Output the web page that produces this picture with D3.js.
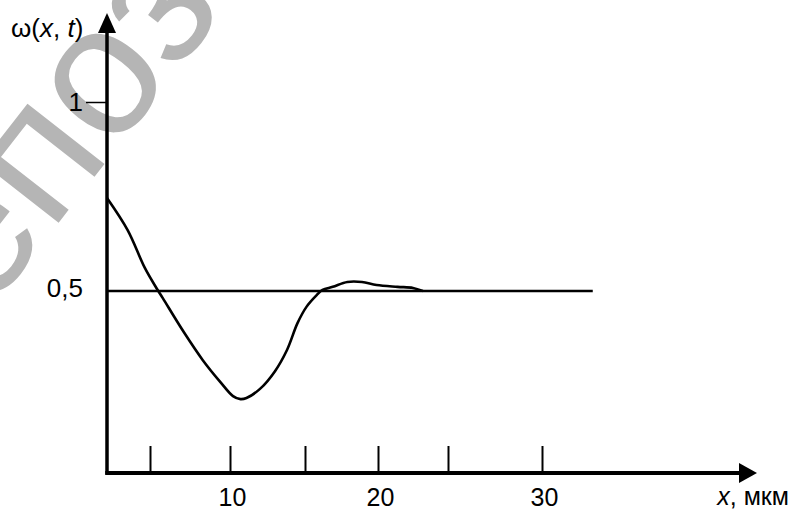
<!doctype html>
<html>
<head>
<meta charset="utf-8">
<title>ω(x, t)</title>
<style>
	body { margin: 0; background: #fff; }
	svg { display: block; font-family: "Liberation Sans", Arial, sans-serif; }
</style>
<script src="https://d3js.org/d3.v7.min.js"></script>
</head>
<body>
<div id="plot"></div>
<script>
	// curve: x in мкм, w = ω(x, t)
	const xs = [0, 2.4, 4.4, 5.4, 5.8, 7.1, 8.3, 9.4, 10.2, 10.7, 11.1, 12.0, 13.0, 13.8,
	            14.5, 15.1, 15.8, 16.2, 16.9, 17.9, 18.9, 19.9, 21.4, 22.5, 23.2];
	const ws = [0.746, 0.661, 0.561, 0.508, 0.481, 0.392, 0.317, 0.259, 0.222, 0.214, 0.217, 0.241, 0.288, 0.344,
	            0.415, 0.458, 0.489, 0.503, 0.511, 0.524, 0.524, 0.516, 0.511, 0.508, 0.5];

	// horizontal level line
	const levelW = 0.5;
	const levelX = [0, 32.7];

	// ticks
	const xTicks = [5, 10, 15, 20, 25, 30];
	const xLabeled = [10, 20, 30];
	const yTicks = [0.5, 1];

	const watermark = "репозиторий БНТУ";

	const width = 792, height = 511;

	// the drawing is hand made: tick spacing is uneven, so the x scale is piecewise
	const x = d3.scaleLinear()
		.domain([0, 5, 10, 15, 20, 25, 30])
		.range([107, 150, 230, 305, 378, 448, 542]);

	const y = d3.scaleLinear()
		.domain([0.5, 1])
		.range([291, 102]);

	const x0 = 107, yBase = 473;

	const fmt = d3.formatLocale({decimal: ",", thousands: " ", grouping: [3], currency: ["", ""]}).format("~g");

	const svg = d3.select("#plot")
		.append("svg")
		.attr("width", width)
		.attr("height", height);

	// watermark behind the chart
	svg.append("text")
		.attr("transform", "translate(-76,395) rotate(-52)")
		.style("font-size", "185px")
		.style("fill", "#b5b5b5")
		.text(watermark);

	// x axis: ticks pointing up, labels only on 10, 20, 30
	svg.append("g")
		.attr("transform", `translate(0,${yBase})`)
		.call(d3.axisBottom(x)
			.tickValues(xTicks)
			.tickSize(-27)
			.tickPadding(15)
			.tickFormat(d => xLabeled.includes(d) ? fmt(d) : ""))
		.call(g => g.select(".domain").remove())
		.call(g => g.selectAll(".tick line").attr("stroke", "#000").attr("stroke-width", 2))
		.call(g => g.selectAll(".tick text")
			.attr("fill", "#000")
			.attr("dx", 2)
			.style("font-size", "25px")
			.style("font-family", "inherit"));

	// y axis: "1" with a short tick, "0,5" without
	svg.append("g")
		.attr("transform", `translate(${x0},0)`)
		.call(d3.axisLeft(y)
			.tickValues(yTicks)
			.tickSize(21)
			.tickPadding(3)
			.tickFormat(fmt))
		.call(g => g.select(".domain").remove())
		.call(g => g.selectAll(".tick line").attr("stroke", "#000").attr("stroke-width", 1.5))
		.call(g => g.selectAll(".tick").filter(d => d === 0.5).select("line").remove())
		.call(g => g.selectAll(".tick").filter(d => d === 0.5).select("text").attr("dy", "0.2em"))
		.call(g => g.selectAll(".tick text")
			.attr("fill", "#000")
			.style("font-size", "26px")
			.style("font-family", "inherit"));

	// level line
	svg.append("line")
		.attr("x1", x(levelX[0]))
		.attr("x2", x(levelX[1]))
		.attr("y1", y(levelW))
		.attr("y2", y(levelW))
		.attr("stroke", "#000")
		.attr("stroke-width", 2.5);

	// curve
	const line = d3.line()
		.x(i => x(xs[i]))
		.y(i => y(ws[i]))
		.curve(d3.curveCatmullRom.alpha(0.5));

	svg.append("path")
		.attr("d", line(d3.range(xs.length)))
		.attr("fill", "none")
		.attr("stroke", "#000")
		.attr("stroke-width", 2.6)
		.attr("stroke-linejoin", "round");

	// axis lines with arrow heads
	svg.append("line")
		.attr("x1", x0).attr("y1", yBase + 1.5)
		.attr("x2", x0).attr("y2", 30)
		.attr("stroke", "#000").attr("stroke-width", 3.5);
	svg.append("path")
		.attr("d", `M${x0},13 L${x0 + 9},33 L${x0 - 9},33 Z`)
		.attr("fill", "#000");

	svg.append("line")
		.attr("x1", x0 - 1.75).attr("y1", yBase)
		.attr("x2", 742).attr("y2", yBase)
		.attr("stroke", "#000").attr("stroke-width", 4);
	svg.append("path")
		.attr("d", `M757,${yBase} L739,${yBase - 10} L739,${yBase + 10} Z`)
		.attr("fill", "#000");

	// axis names
	const yl = svg.append("text")
		.attr("x", 11)
		.attr("y", 37)
		.style("font-size", "26px");
	yl.append("tspan").text("ω(");
	yl.append("tspan").style("font-style", "italic").text("x");
	yl.append("tspan").text(", ");
	yl.append("tspan").style("font-style", "italic").text("t");
	yl.append("tspan").text(")");

	const xl = svg.append("text")
		.attr("x", 789)
		.attr("y", 505)
		.attr("text-anchor", "end")
		.style("font-size", "25px");
	xl.append("tspan").style("font-style", "italic").text("x");
	xl.append("tspan").text(", мкм");
</script>
</body>
</html>
